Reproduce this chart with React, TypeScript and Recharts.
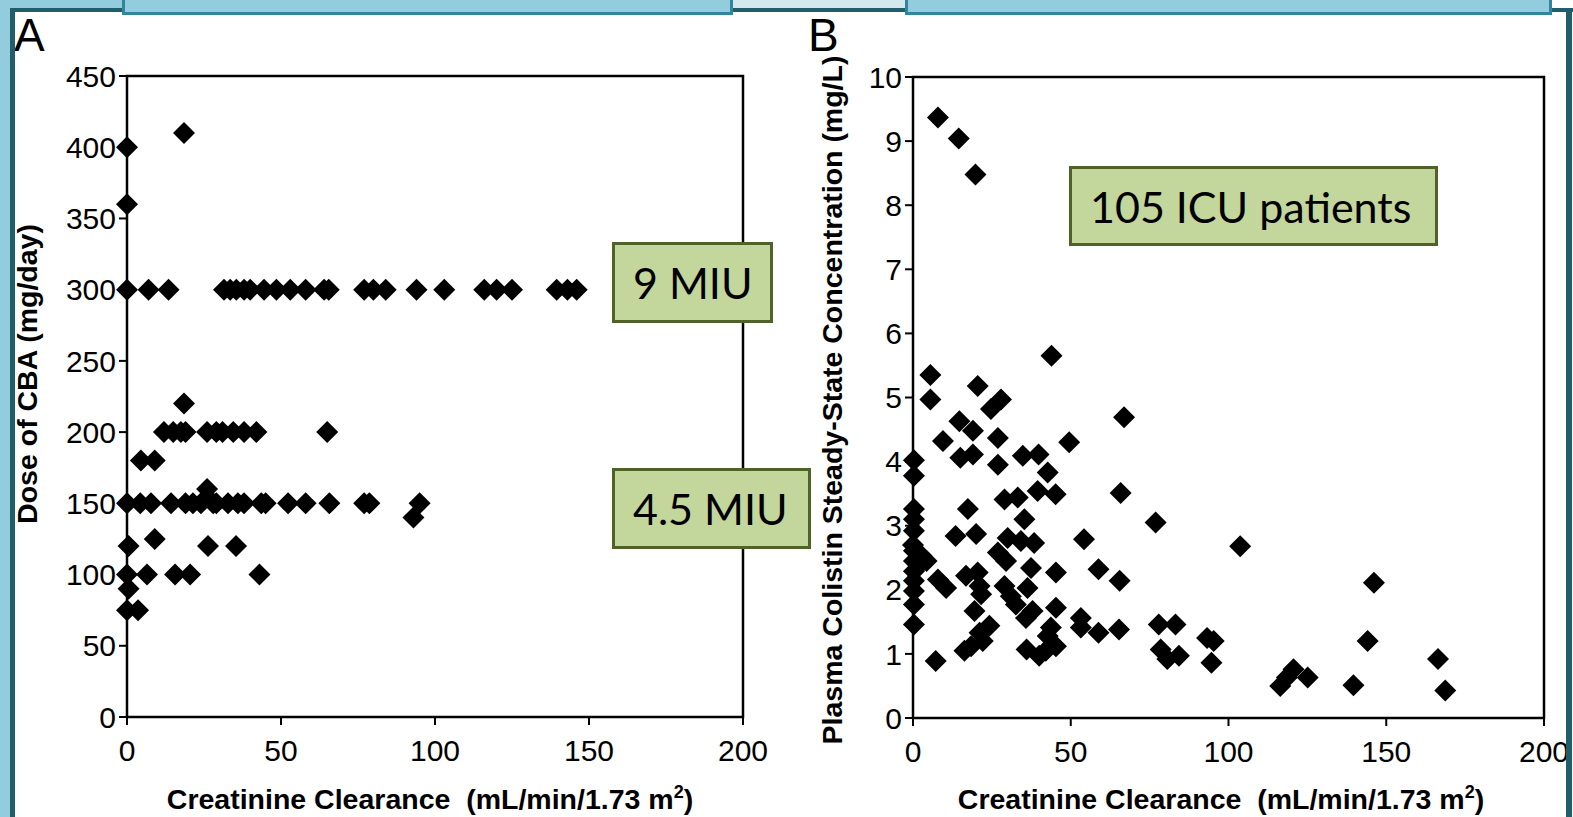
import { ReferenceArea, Scatter, ScatterChart, XAxis, YAxis } from 'recharts'

// Panel A: creatinine clearance vs daily CBA dose
const doseXTicks = [0, 50, 100, 150, 200]
const doseYTicks = [0, 50, 100, 150, 200, 250, 300, 350, 400, 450]
const dosePoints: [number, number][] = [
  [0, 400], [0, 360], [18.5, 410],
  [0, 300], [7, 300], [13.5, 300], [31.5, 300], [33.5, 300], [35.5, 300], [38, 300], [40, 300],
  [44.5, 300], [48.5, 300], [53, 300], [58, 300], [64, 300], [65.5, 300], [77, 300], [80, 300],
  [84, 300], [94, 300], [103, 300], [116, 300], [120, 300], [125, 300], [139.5, 300], [143, 300], [146, 300],
  [18.5, 220],
  [12, 200], [15, 200], [17.5, 200], [19, 200], [26, 200], [29, 200], [31, 200], [34.5, 200],
  [38, 200], [42, 200], [65, 200],
  [4.5, 180], [9, 180],
  [26, 160],
  [0, 150], [4.3, 150], [7.8, 150], [14.3, 150], [19, 150], [21.4, 150], [24, 150], [28, 150],
  [29, 150], [32.8, 150], [36, 150], [38, 150], [43.6, 150], [45, 150], [52.3, 150], [58, 150],
  [65.7, 150], [77, 150], [78.7, 150], [95, 150],
  [93, 140],
  [0.5, 120], [9, 125], [26.3, 120], [35.4, 120],
  [0, 100], [6.5, 100], [15.6, 100], [20.5, 100], [43, 100],
  [0.5, 90],
  [0, 75], [3.6, 75],
]

// Panel B: creatinine clearance vs plasma colistin concentration
const concXTicks = [0, 50, 100, 150, 200]
const concYTicks = [0, 1, 2, 3, 4, 5, 6, 7, 8, 9, 10]
const concPoints: [number, number][] = [
  [7.9, 9.37], [14.5, 9.04], [19.8, 8.48], [43.9, 5.65],
  [5.5, 5.35], [5.5, 4.97], [20.5, 5.18], [24.7, 4.82], [27.9, 4.97], [14.7, 4.63], [19, 4.48],
  [9.5, 4.32], [26.9, 4.37], [15, 4.06], [19, 4.11], [26.9, 3.95], [34.8, 4.09], [39.8, 4.11],
  [49.5, 4.3], [66.9, 4.69],
  [0.3, 4.02], [0.3, 3.78], [42.7, 3.83], [39.5, 3.54], [45.2, 3.49], [29, 3.41], [33.2, 3.44],
  [65.8, 3.51], [17.4, 3.26], [35.3, 3.1], [76.9, 3.05],
  [0.3, 3.26], [0.3, 3.1], [0.3, 2.92], [13.5, 2.84], [20, 2.87], [30, 2.81], [34.2, 2.76],
  [38.4, 2.73], [54.2, 2.79], [26.9, 2.58],
  [0.3, 2.61], [0.3, 2.45], [2.7, 2.53], [4.3, 2.45], [0.3, 2.29], [0.3, 2.14], [0.3, 1.98],
  [0.3, 1.77], [0.3, 1.46], [0, 2.7], [1.8, 2.38],
  [29.5, 2.45], [37.4, 2.34], [45.3, 2.27], [58.8, 2.32], [65.5, 2.14], [16.8, 2.22], [20.5, 2.27],
  [7.9, 2.16], [10.5, 2.03], [21.1, 2.06], [21.6, 1.93], [29, 2.06], [31, 1.9], [36.3, 2.03],
  [32.6, 1.77], [37.9, 1.67], [35.8, 1.56], [19.5, 1.67], [24.2, 1.44], [21.1, 1.33], [22.1, 1.2],
  [16.3, 1.05], [18.4, 1.12], [45.3, 1.72], [53.2, 1.56], [53.2, 1.41], [58.8, 1.33], [65.3, 1.38],
  [43.7, 1.41], [42.7, 1.28], [45.3, 1.12], [36, 1.07], [40, 0.97], [42.1, 1.05], [7.2, 0.89],
  [77.9, 1.46], [83.2, 1.46], [78.5, 1.07], [80.6, 0.92], [84.3, 0.97],
  [103.7, 2.68], [146.1, 2.11], [93.2, 1.25], [95.3, 1.2], [94.6, 0.86], [144.1, 1.2],
  [116.4, 0.5], [118.5, 0.63], [120.6, 0.76], [125.1, 0.63], [139.6, 0.51], [166.4, 0.92], [168.7, 0.43],
]

const font = "'Liberation Sans', Arial, sans-serif"
const calloutFont = "Lato, 'Liberation Sans', sans-serif"
const lightBlue = '#93cddd'
const boxBlue = '#31859c'
const darkTeal = '#205e6c'

const toXY = (pts: [number, number][]) => pts.map(([x, y]) => ({ x, y }))

function Diamond(props: any) {
  const { cx, cy } = props
  const r = 11
  return <polygon points={`${cx},${cy - r} ${cx + r},${cy} ${cx},${cy + r} ${cx - r},${cy}`} fill="#000" />
}

const tickStyle = { fill: '#000', fontSize: 30, fontFamily: font }
const axisLine = { stroke: '#000', strokeWidth: 2 }

function Callout({ left, top, width, height, text }: { left: number; top: number; width: number; height: number; text: string }) {
  return (
    <div
      style={{
        position: 'absolute', left, top, width, height, boxSizing: 'border-box',
        background: '#c3d69b', border: '3px solid #4f6228', display: 'flex', alignItems: 'center',
        paddingLeft: 18, fontFamily: calloutFont, fontSize: 43, color: '#000', whiteSpace: 'nowrap',
      }}
    >
      {text}
    </div>
  )
}

function ClearanceTitle({ x }: { x: number }) {
  return (
    <text x={x} y={809} fontSize={28.5} fontWeight="bold" textAnchor="middle" xmlSpace="preserve">
      {'Creatinine Clearance\u00a0\u00a0(mL/min/1.73 m'}
      <tspan fontSize={18} dy={-11}>2</tspan>
      <tspan dy={11}>)</tspan>
    </text>
  )
}

export default function App() {
  return (
    <div style={{ position: 'absolute', left: 0, top: 0, width: 1573, height: 817, background: '#fff', overflow: 'hidden' }}>
      <div style={{ position: 'absolute', left: 0, top: 0 }}>
        <ScatterChart width={800} height={817} margin={{ top: 76, right: 57, bottom: 0, left: 0 }}>
          <XAxis type="number" dataKey="x" domain={[0, 200]} ticks={doseXTicks} height={100} tickSize={8} tickMargin={15}
            axisLine={axisLine} tickLine={axisLine} tick={tickStyle} />
          <YAxis type="number" dataKey="y" domain={[0, 450]} ticks={doseYTicks} width={127} tickSize={8} tickMargin={3}
            axisLine={axisLine} tickLine={axisLine} tick={tickStyle} />
          <ReferenceArea x1={0} x2={200} y1={0} y2={450} fill="#fff" fillOpacity={0} stroke="#000" strokeWidth={2.5} />
          <Scatter data={toXY(dosePoints)} shape={Diamond} isAnimationActive={false} />
        </ScatterChart>
      </div>
      <div style={{ position: 'absolute', left: 800, top: 0 }}>
        <ScatterChart width={773} height={817} margin={{ top: 77, right: 29, bottom: 0, left: 0 }}>
          <XAxis type="number" dataKey="x" domain={[0, 200]} ticks={concXTicks} height={99} tickSize={8} tickMargin={15}
            axisLine={axisLine} tickLine={axisLine} tick={tickStyle} />
          <YAxis type="number" dataKey="y" domain={[0, 10]} ticks={concYTicks} width={113} tickSize={8} tickMargin={3}
            axisLine={axisLine} tickLine={axisLine} tick={tickStyle} />
          <ReferenceArea x1={0} x2={200} y1={0} y2={10} fill="#fff" fillOpacity={0} stroke="#000" strokeWidth={2.5} />
          <Scatter data={toXY(concPoints)} shape={Diamond} isAnimationActive={false} />
        </ScatterChart>
      </div>

      <svg width={1573} height={817} style={{ position: 'absolute', left: 0, top: 0, pointerEvents: 'none' }}>
        <g fontFamily={font} fill="#000">
          <text x={14} y={51} fontSize={46}>A</text>
          <text x={808} y={51} fontSize={46}>B</text>
          <ClearanceTitle x={430} />
          <ClearanceTitle x={1221} />
          <text x={0} y={0} fontSize={28.5} fontWeight="bold" textAnchor="middle" transform="translate(37,374) rotate(-90)">
            Dose of CBA (mg/day)
          </text>
          <text x={0} y={0} fontSize={28.5} fontWeight="bold" textAnchor="middle" transform="translate(842,400) rotate(-90)">
            Plasma Colistin Steady-State Concentration (mg/L)
          </text>
        </g>
      </svg>

      <Callout left={612} top={242} width={161} height={81} text="9 MIU" />
      <Callout left={612} top={468} width={199} height={81} text="4.5 MIU" />
      <Callout left={1069} top={166} width={369} height={80} text="105 ICU patients" />

      {/* slide frame */}
      <div style={{ position: 'absolute', left: 0, top: 0, width: 10, height: 817, background: lightBlue }} />
      <div style={{ position: 'absolute', left: 0, top: 0, width: 122, height: 9, background: lightBlue }} />
      <div style={{ position: 'absolute', left: 733, top: 0, width: 172, height: 9, background: '#d3e8ef' }} />
      <div style={{ position: 'absolute', left: 10, top: 8, width: 1563, height: 4, background: darkTeal }} />
      <div style={{ position: 'absolute', left: 10, top: 8, width: 5, height: 809, background: darkTeal }} />
      <div style={{ position: 'absolute', left: 1566, top: 8, width: 6, height: 809, background: darkTeal }} />
      <div style={{ position: 'absolute', left: 122, top: -10, width: 611, height: 25, boxSizing: 'border-box', background: lightBlue, border: `3px solid ${boxBlue}` }} />
      <div style={{ position: 'absolute', left: 905, top: -10, width: 647, height: 25, boxSizing: 'border-box', background: lightBlue, border: `3px solid ${boxBlue}` }} />
    </div>
  )
}
